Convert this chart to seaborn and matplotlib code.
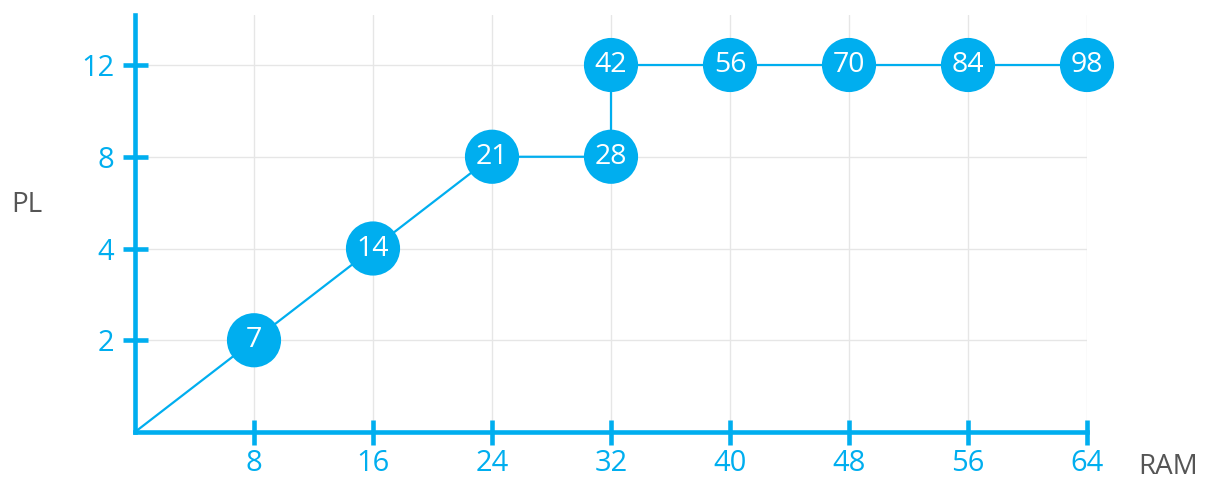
import numpy as np
import pandas as pd
import seaborn as sns
import matplotlib.pyplot as plt

# dados
ram = [0, 8, 16, 24, 32, 32, 40, 48, 56, 64]
pl = [0, 2, 4, 8, 8, 12, 12, 12, 12, 12]
rotulos = ["", "7", "14", "21", "28", "42", "56", "70", "84", "98"]
pl_ticks = [0, 2, 4, 8, 12]
ram_ticks = [8, 16, 24, 32, 40, 48, 56, 64]

azul = "#00aeef"
cinza = "#555555"

# eixo y e categorico (espacamento igual)
pos_y = {v: i for i, v in enumerate(pl_ticks)}
df = pd.DataFrame({"RAM": ram, "PL": [pos_y[v] for v in pl], "rotulo": rotulos})

sns.set_style("white")
plt.rcParams["font.family"] = ["Open Sans", "DejaVu Sans"]

fig = plt.figure(figsize=(12.07, 4.82), dpi=100)
ax = fig.add_axes([135 / 1207, 50 / 482, (1087 - 135) / 1207, (432 - 15) / 482])

sns.lineplot(data=df, x="RAM", y="PL", sort=False, estimator=None, color=azul,
             linewidth=1.6, ax=ax)
pontos = df.iloc[1:]
sns.scatterplot(data=pontos, x="RAM", y="PL", s=39 ** 2, color=azul, edgecolor="none",
                ax=ax, zorder=3, clip_on=False)
for _, r in pontos.iterrows():
    ax.text(r["RAM"], r["PL"], r["rotulo"], color="white", fontsize=20.5,
            ha="center", va="center", zorder=4)

ax.set_xlim(0, 64)
ax.set_ylim(0, 4.545)
ax.set_xticks(ram_ticks)
ax.set_xticklabels([str(v) for v in ram_ticks])
ax.set_yticks(range(1, len(pl_ticks)))
ax.set_yticklabels([str(v) for v in pl_ticks[1:]])
ax.tick_params(axis="both", bottom=True, left=True, colors=azul, labelcolor=azul,
               labelsize=21, direction="inout", length=18, width=3.3)
ax.tick_params(axis="x", pad=3)
ax.tick_params(axis="y", pad=6)

ax.grid(True, color="#e6e6e6", linewidth=1)
ax.set_axisbelow(True)
for s in ["top", "right"]:
    ax.spines[s].set_visible(False)
for s in ["left", "bottom"]:
    ax.spines[s].set_color(azul)
    ax.spines[s].set_linewidth(3.3)

ax.set_xlabel("")
ax.set_ylabel("")
fig.text(27 / 1207, 1 - 205 / 482, "PL", color=cinza, fontsize=20, ha="center", va="center")
fig.text(1168 / 1207, 1 - 467 / 482, "RAM", color=cinza, fontsize=20, ha="center", va="center")

plt.savefig("out.png", dpi=100)
